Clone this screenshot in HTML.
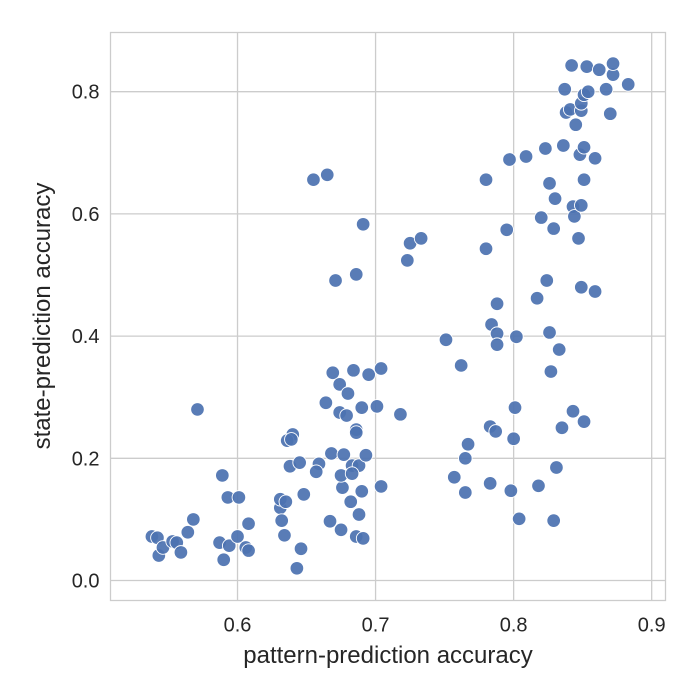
<!DOCTYPE html>
<html><head><meta charset="utf-8"><style>
html,body{margin:0;padding:0;background:#fff;}
svg{display:block;font-family:"Liberation Sans","DejaVu Sans",sans-serif;}
</style></head><body>
<svg id="chart" width="700" height="700" viewBox="0 0 700 700">
<rect x="0" y="0" width="700" height="700" fill="#fff"/>
<g id="grid"></g>
<g id="points"></g>
<rect x="110.5" y="32.5" width="555" height="568" fill="none" stroke="#cccccc" stroke-width="1.3"/>
<g id="ticks"></g>
<text x="388" y="663" text-anchor="middle" font-size="24" fill="#262626">pattern-prediction accuracy</text>
<text transform="translate(50,316) rotate(-90)" text-anchor="middle" font-size="24" fill="#262626">state-prediction accuracy</text>
</svg>
<script>
const xTicks=[0.6,0.7,0.8,0.9];
const xTickLabels=["0.6","0.7","0.8","0.9"];
const yTicks=[0.0,0.2,0.4,0.6,0.8];
const yTickLabels=["0.0","0.2","0.4","0.6","0.8"];
const xVals=[.538,.542,.543,.546,.553,.556,.559,.564,.568,.571,.587,.589,.590,.593,.594,.600,.601,.606,.608,.608,.631,.632,.631,.635,.634,.640,.636,.639,.638,.645,.643,.646,.648,.659,.657,.655,.665,.664,.667,.668,.669,.671,.674,.675,.676,.677,.674,.679,.680,.682,.675,.683,.684,.686,.686,.686,.686,.688,.688,.683,.690,.691,.690,.691,.693,.695,.701,.704,.704,.718,.723,.725,.733,.751,.757,.762,.765,.767,.765,.780,.780,.783,.784,.787,.788,.788,.788,.783,.795,.797,.798,.800,.801,.802,.804,.809,.817,.818,.820,.823,.824,.826,.826,.827,.829,.829,.830,.831,.833,.835,.836,.837,.838,.841,.842,.843,.843,.844,.845,.847,.848,.849,.849,.849,.849,.851,.851,.851,.851,.853,.854,.859,.859,.862,.867,.870,.872,.872,.883];
const yVals=[.072,.070,.041,.054,.064,.062,.046,.079,.100,.280,.062,.172,.034,.136,.057,.072,.136,.054,.049,.093,.119,.098,.133,.129,.074,.239,.229,.231,.187,.193,.020,.052,.141,.191,.178,.656,.664,.291,.097,.208,.340,.491,.321,.083,.152,.206,.275,.270,.306,.129,.172,.188,.344,.247,.242,.501,.072,.108,.188,.175,.283,.583,.146,.069,.205,.337,.285,.347,.154,.272,.524,.552,.560,.394,.169,.352,.200,.223,.144,.656,.543,.252,.419,.244,.453,.404,.386,.159,.574,.689,.147,.232,.283,.399,.101,.694,.462,.155,.594,.707,.491,.650,.406,.342,.576,.098,.625,.185,.378,.250,.712,.804,.766,.771,.843,.612,.277,.596,.746,.560,.697,.769,.781,.614,.480,.795,.709,.656,.260,.841,.800,.691,.473,.836,.804,.764,.828,.846,.812];
const NS="http://www.w3.org/2000/svg";
const X0=110.5,X1=665.5,Y0=600.5,Y1=32.5;
const xMin=0.508,xMax=0.910,yMin=-0.0327,yMax=0.8969;
function sx(v){return X0+(v-xMin)/(xMax-xMin)*(X1-X0);}
function sy(v){return Y0-(v-yMin)/(yMax-yMin)*(Y0-Y1);}
const grid=document.getElementById('grid'),ticks=document.getElementById('ticks'),pts=document.getElementById('points');
xTicks.forEach((t,i)=>{
 const l=document.createElementNS(NS,'line');
 l.setAttribute('x1',sx(t));l.setAttribute('x2',sx(t));l.setAttribute('y1',Y1);l.setAttribute('y2',Y0);
 l.setAttribute('stroke','#cccccc');l.setAttribute('stroke-width','1.3');
 
 
 grid.appendChild(l);
 const tx=document.createElementNS(NS,'text');
 tx.setAttribute('x',sx(t));tx.setAttribute('y',Y0+31);tx.setAttribute('text-anchor','middle');
 tx.setAttribute('font-size','20');tx.setAttribute('fill','#262626');tx.textContent=xTickLabels[i];
 
 
 ticks.appendChild(tx);
});
yTicks.forEach((t,i)=>{
 const l=document.createElementNS(NS,'line');
 l.setAttribute('y1',sy(t));l.setAttribute('y2',sy(t));l.setAttribute('x1',X0);l.setAttribute('x2',X1);
 l.setAttribute('stroke','#cccccc');l.setAttribute('stroke-width','1.3');
 
 
 grid.appendChild(l);
 const tx=document.createElementNS(NS,'text');
 tx.setAttribute('x',X0-11);tx.setAttribute('y',sy(t)+7);tx.setAttribute('text-anchor','end');
 tx.setAttribute('font-size','20');tx.setAttribute('fill','#262626');tx.textContent=yTickLabels[i];
 
 
 ticks.appendChild(tx);
});
xVals.forEach((v,i)=>{
 const c=document.createElementNS(NS,'circle');
 c.setAttribute('cx',sx(v));c.setAttribute('cy',sy(yVals[i]));c.setAttribute('r','6.8');
 c.setAttribute('fill','#4c72b0');c.setAttribute('fill-opacity','0.93');c.setAttribute('stroke','#fff');c.setAttribute('stroke-width','0.9');
 
 
 pts.appendChild(c);
});
</script>
</body></html>
